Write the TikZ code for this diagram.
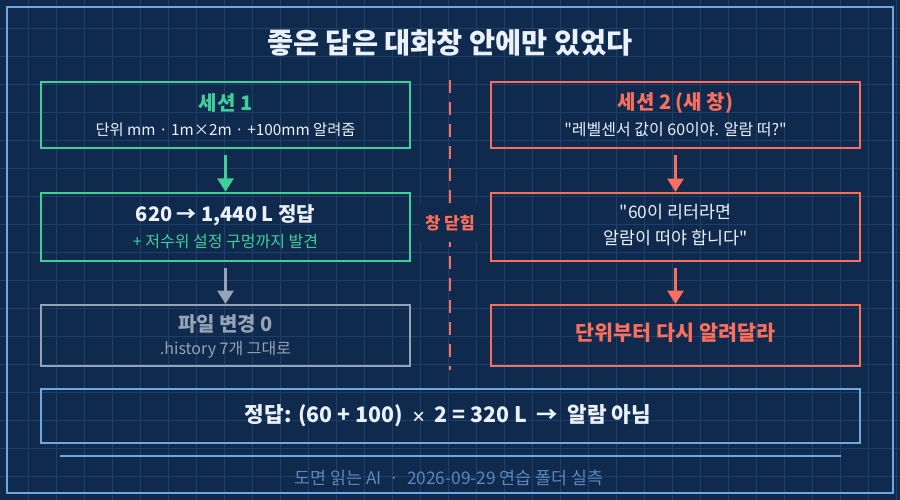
\documentclass[tikz,border=0pt]{standalone}
\usepackage{fontspec}
\newfontfamily\coree{Noto Sans CJK KR}
\usetikzlibrary{arrows.meta}
\definecolor{fond}{HTML}{0F2A4D}
\definecolor{grille}{HTML}{1E3F69}
\definecolor{cadre}{HTML}{6FA8DC}
\definecolor{vert}{HTML}{3FCF9B}
\definecolor{corail}{HTML}{F96E5C}
\definecolor{gris}{HTML}{94A3B8}
\definecolor{blanc}{HTML}{EAF1FA}
\definecolor{pied}{HTML}{5B87BD}
\begin{document}
\begin{tikzpicture}[x=0.75pt,y=-0.75pt]
% Styles
\tikzstyle{boite}=[draw,line width=1.9pt,minimum width=369*0.75pt,minimum height=68*0.75pt,inner sep=0pt,align=center]
\tikzstyle{fleche}=[line width=2.2pt,-{Triangle[width=12pt,length=10pt]}]
\tikzstyle{titre}=[font=\coree\bfseries\fontsize{15}{18}\selectfont]
\tikzstyle{sous}=[font=\coree\fontsize{12}{14}\selectfont]
% Dimensions
\def\ColG{225.5}
\def\ColD{675.5}
\def\NiveauA{115}
\def\NiveauB{227}
\def\NiveauC{335.5}
% Fond et grille
\useasboundingbox (0,0) rectangle (900,500);
\fill[fond] (0,0) rectangle (900,500);
\foreach \i in {1,...,32} \draw[grille,line width=0.75pt] (\i*28,0) -- (\i*28,500);
\foreach \j in {1,...,17} \draw[grille,line width=0.75pt] (0,\j*28) -- (900,\j*28);
\draw[cadre,line width=1.5pt] (7,7) rectangle (893,493);
% Titre
\node[blanc,font=\coree\bfseries\fontsize{21.3}{24}\selectfont] (T) at (450,43) {좋은 답은 대화창 안에만 있었다};
% Separation
\draw[corail,line width=2.2pt,dash pattern=on 9.5pt off 7pt] (450,80) -- (450,370);
\node[fill=fond,text=corail,font=\coree\bfseries\fontsize{12.5}{14}\selectfont,minimum width=45pt,minimum height=28pt] (Ferme) at (450,223) {창 닫힘};
% Noeuds gauche
\node[boite,vert,minimum height=66*0.75pt] (Ga) at (\ColG,\NiveauA) {};
\node[titre,vert] (Gat) at (\ColG,103) {세션 1};
\node[sous,blanc,font=\coree\fontsize{11.5}{14}\selectfont] (Gas) at (\ColG,130) {단위 mm · 1m×2m · +100mm 알려줌};
\node[boite,vert,minimum height=68*0.75pt] (Gb) at (\ColG,\NiveauB) {};
\node[titre,blanc] (Gbt) at (\ColG,215) {620 → 1,440 L 정답};
\node[sous,vert] (Gbs) at (\ColG,242) {+ 저수위 설정 구멍까지 발견};
\node[boite,gris,line width=1.6pt,minimum height=61*0.75pt] (Gc) at (\ColG,\NiveauC) {};
\node[titre,gris] (Gct) at (\ColG,324) {파일 변경 0};
\node[sous,gris] (Gcs) at (\ColG,350) {.history 7개 그대로};
% Noeuds droite
\node[boite,corail,minimum height=66*0.75pt] (Da) at (\ColD,\NiveauA) {};
\node[titre,corail] (Dat) at (\ColD,103) {세션 2 (새 창)};
\node[sous,blanc] (Das) at (\ColD,130) {"레벨센서 값이 60이야. 알람 떠?"};
\node[boite,corail,line width=1.6pt,minimum height=68*0.75pt] (Db) at (\ColD,\NiveauB) {};
\node[sous,blanc,font=\coree\fontsize{13}{15}\selectfont] (Dbt) at (\ColD,212) {"60이 리터라면};
\node[sous,blanc,font=\coree\fontsize{13}{15}\selectfont] (Dbs) at (\ColD,238) {알람이 떠야 합니다"};
\node[boite,corail,line width=1.6pt,minimum height=61*0.75pt] (Dc) at (\ColD,\NiveauC) {};
\node[titre,corail,font=\coree\bfseries\fontsize{15.5}{18}\selectfont] (Dct) at (\ColD,333) {단위부터 다시 알려달라};
% Bilan
\node[draw,cadre,line width=1.5pt,minimum width=819*0.75pt,minimum height=54*0.75pt,inner sep=0pt] (Bilan) at (450.5,416) {};
\node[blanc,font=\coree\bfseries\fontsize{16}{18}\selectfont] (Bilant) at (448,416) {정답: (60 + 100) \,{\fontsize{11}{12}\selectfont ×}\, 2 = 320 L \ → \ 알람 아님};
\coordinate (Sg) at (60,456);
\coordinate (Sd) at (841,456);
\draw[cadre,line width=0.9pt] (Sg) -- (Sd);
\node[pied,font=\coree\fontsize{13}{15}\selectfont] (Pied) at (449,478) {도면 읽는 AI \ · \ 2026-09-29 연습 폴더 실측};
% Arcs
\draw[fleche,vert] (Ga.south) ++(0,6) coordinate (Ga1) (Ga1) -- (Gb.north);
\draw[fleche,gris] (Gb.south) ++(0,6) coordinate (Gb1) (Gb1) -- (Gc.north);
\draw[fleche,corail] (Da.south) ++(0,6) coordinate (Da1) (Da1) -- (Db.north);
\draw[fleche,corail] (Db.south) ++(0,6) coordinate (Db1) (Db1) -- (Dc.north);
\end{tikzpicture}
\end{document}
